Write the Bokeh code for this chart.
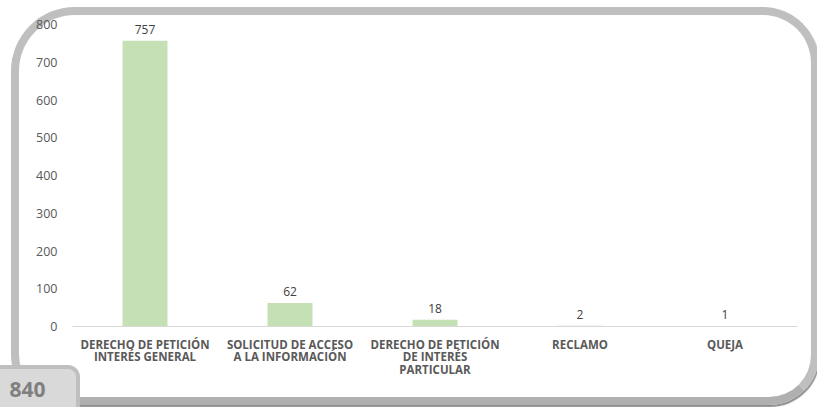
from bokeh.plotting import figure
from bokeh.models import (FactorRange, Range1d, SingleIntervalTicker, Title,
                          ColumnDataSource, InlineStyleSheet)
from bokeh.core.properties import value
from bokeh.embed import file_html
from bokeh.resources import INLINE

categories = ["DERECHO DE PETICIÓN\nINTERÉS GENERAL",
              "SOLICITUD DE ACCESO\nA LA INFORMACIÓN",
              "DERECHO DE PETICIÓN\nDE INTERÉS\nPARTICULAR",
              "RECLAMO",
              "QUEJA"]
counts = [757, 62, 18, 2, 1]
total_label = "840"

W, H = 817, 407
p = figure(width=W, height=H, output_backend="svg", toolbar_location=None,
           x_range=FactorRange(*categories), y_range=Range1d(0, 800),
           min_border_left=72, min_border_right=20, min_border_top=24,
           min_border_bottom=81)
p.outline_line_color = None
p.background_fill_color = None
p.border_fill_color = None
p.xgrid.visible = False
p.ygrid.visible = False

src = ColumnDataSource(dict(cat=categories, val=counts, lab=[str(v) for v in counts]))
p.vbar(x="cat", top="val", width=0.31, source=src, fill_color="#c5e0b4",
       line_color=None)
p.text(x="cat", y="val", text="lab", source=src, y_offset=-7,
       text_align="center", text_baseline="bottom", text_font_size="12px",
       text_color="#404040", text_font=value("Open Sans"))

# axes
p.yaxis.ticker = SingleIntervalTicker(interval=100)
p.yaxis.axis_line_color = None
p.yaxis.major_tick_line_color = None
p.yaxis.minor_tick_line_color = None
p.yaxis.major_label_standoff = 9
p.yaxis.major_label_text_font = "Open Sans"
p.yaxis.major_label_text_font_size = "12.5px"
p.yaxis.major_label_text_color = "#595959"

p.xaxis.axis_line_color = "#d9d9d9"
p.xaxis.axis_line_width = 1
p.xaxis.major_tick_line_color = None
p.xaxis.minor_tick_line_color = None
p.xaxis.major_label_standoff = 4
p.xaxis.major_label_text_font = "Open Sans"
p.xaxis.major_label_text_font_style = "bold"
p.xaxis.major_label_text_font_size = "11.5px"
p.xaxis.major_label_text_color = "#595959"
p.xaxis.major_label_text_line_height = 0.84

# total in the bottom-left tab
t = Title(text=total_label, align="left", offset=-63, standoff=0,
          text_font="Open Sans", text_font_style="bold",
          text_font_size="21px", text_color="#7f7f7f")
p.add_layout(t, "below")

# decorative rounded frame and tab (page decoration only)
css = """
:host { position: relative; z-index: 0; overflow: hidden; background: white; }
:host::before {
  content: ""; position: absolute; left: 11px; top: 7px;
  width: 808px; height: 398px; box-sizing: border-box;
  border: 8px solid #bfbfbf; border-bottom-color: #b0b0b0;
  border-radius: 64px 56px 50px 50px;
  box-shadow: 1px 2px 1px #8f8f8f;
  z-index: -1; pointer-events: none;
}
:host::after {
  content: ""; position: absolute; left: -4px; top: 365px;
  width: 84px; height: 60px; box-sizing: border-box;
  background: #d9d9d9; border: 4px solid #bfbfbf;
  border-top-right-radius: 12px;
  z-index: -1; pointer-events: none;
}
"""
p.stylesheets = [InlineStyleSheet(css=css)]

open("out.html", "w").write(file_html(p, INLINE))
